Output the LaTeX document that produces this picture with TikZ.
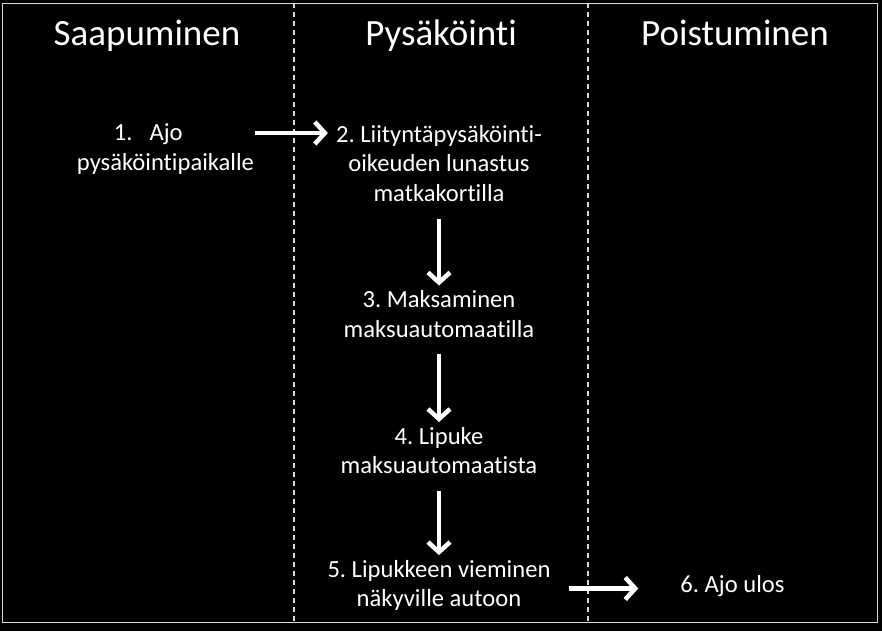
\documentclass[tikz,border=0pt]{standalone}
\usepackage{fontspec}
\setmainfont{Carlito}[Ligatures=NoCommon]
\usetikzlibrary{arrows.meta}
\frenchspacing

\tikzset{
	lanetitle/.style={text=white, anchor=base, font=\fontsize{37}{44}\selectfont},
	stepbox/.style={text=white, align=center, inner sep=3pt, font=\fontsize{24.6}{29.3}\selectfont},
	flow/.style={draw=white, line width=4.5pt, -{Straight Barb[length=10pt,width=22pt]}},
	lane/.style={draw=white!85!black, line width=1.5pt, dash pattern=on 5pt off 4pt},
}

\begin{document}
\begin{tikzpicture}[x=1pt,y=-1pt]

	\fill[black] (0,0) rectangle (882,631);
	\useasboundingbox (0,0) rectangle (882,631);

	\draw[white!85!black, line width=1.5pt] (2.5,3.5) rectangle (877.5,622.5);
	\draw[lane] (294,3.5) -- (294,622.5);
	\draw[lane] (588,3.5) -- (588,622.5);

	\node 	(t1)	at	(147,46)	[lanetitle]{Saapuminen};
	\node 	(t2)	at	(441,46)	[lanetitle]{Pysäköinti};
	\node 	(t3)	at	(735,46)	[lanetitle]{Poistuminen};

	\node 	(n1)	at	(165.5,149)	[stepbox, align=left]{\hspace*{37pt}1.\hspace{17pt}Ajo\\pysäköintipaikalle};
	\node 	(n2)	at	(439,163.5)	[stepbox]{2. Liityntäpysäköinti-\\oikeuden lunastus\\matkakortilla};
	\node 	(n3)	at	(439,314)	[stepbox]{3. Maksaminen\\maksuautomaatilla};
	\node 	(n4)	at	(439,450.5)	[stepbox]{4. Lipuke\\maksuautomaatista};
	\node 	(n5)	at	(439,585.5)	[stepbox]{5. Lipukkeen vieminen\\näkyville autoon};
	\node 	(n6)	at	(732.5,586)	[stepbox]{6. Ajo ulos};

	\draw[flow, shorten <=-2pt, shorten >=5pt]	([yshift=16pt]n1.east)	--	([yshift=16pt]n1.east -| n2.west);
	\draw[flow, shorten <=14pt, shorten >=2pt]	(n2)	--	(n3);
	\draw[flow, shorten <=14pt, shorten >=2pt]	(n3)	--	(n4);
	\draw[flow, shorten <=14pt, shorten >=2pt]	(n4)	--	(n5);
	\draw[flow, shorten <=15pt, shorten >=39pt]	([yshift=-3pt]n5.east)	--	([yshift=-3pt]n5.east -| n6.west);

\end{tikzpicture}
\end{document}
